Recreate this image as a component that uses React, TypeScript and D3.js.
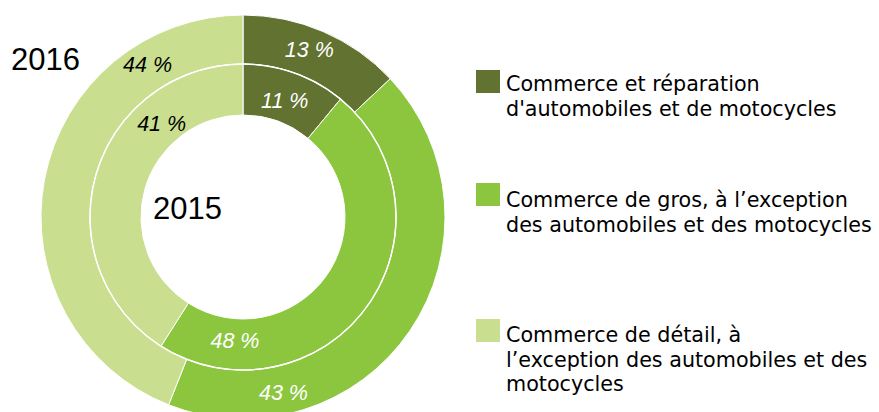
import React from "react";
import * as d3 from "d3";

const categories = [
  "Commerce et réparation d'automobiles et de motocycles",
  "Commerce de gros, à l’exception des automobiles et des motocycles",
  "Commerce de détail, à l’exception des automobiles et des motocycles",
];
const legendLines = [
  ["Commerce et réparation", "d'automobiles et de motocycles"],
  ["Commerce de gros, à l’exception", "des automobiles et des motocycles"],
  ["Commerce de détail, à", "l’exception des automobiles et des", "motocycles"],
];
const values2016 = [13, 43, 44];
const values2015 = [11, 48, 41];
const colors = ["#617231", "#8cc63f", "#c9df8f"];
const labelColors = ["#ffffff", "#ffffff", "#000000"];

// label placement (angle in degrees from top, clockwise), layout only
const labelAngles2016 = [21.6, 167, -32];
const labelAngles2015 = [19.7, 183.7, -41];

const W = 879;
const H = 412;
const cx = 243;
const cy = 217;
const rOuter = 202;
const rMid = 153;
const rHole = 102;

export default function App() {
  const pie = d3.pie<number>().sort(null).value((d) => d);
  const outerArcs = pie(values2016);
  const innerArcs = pie(values2015);
  const arcOuter = d3.arc<d3.PieArcDatum<number>>().innerRadius(rMid).outerRadius(rOuter);
  const arcInner = d3.arc<d3.PieArcDatum<number>>().innerRadius(rHole).outerRadius(rMid);

  const pos = (deg: number, r: number) => {
    const a = (deg * Math.PI) / 180;
    return [cx + r * Math.sin(a), cy - r * Math.cos(a)];
  };

  const labelFont = "'Liberation Sans', Arial, sans-serif";

  return (
    <div style={{ position: "fixed", left: 0, top: 0 }}>
      <svg width={W} height={H} style={{ display: "block", background: "#fff" }}>
        <g transform={`translate(${cx},${cy})`}>
          {outerArcs.map((a, i) => (
            <path key={"o" + i} d={arcOuter(a) || ""} fill={colors[i]} stroke="#fff" strokeWidth={1} />
          ))}
          {innerArcs.map((a, i) => (
            <path key={"i" + i} d={arcInner(a) || ""} fill={colors[i]} stroke="#fff" strokeWidth={1} />
          ))}
          <circle r={rMid} fill="none" stroke="#fff" strokeWidth={1.5} />
        </g>
        {values2016.map((v, i) => {
          const [x, y] = pos(labelAngles2016[i], 180);
          return (
            <text key={"lo" + i} x={x} y={y} dy="0.35em" textAnchor="middle" fontFamily={labelFont} fontStyle="italic" fontSize={21.5} fill={labelColors[i]}>
              {`${v} %`}
            </text>
          );
        })}
        {values2015.map((v, i) => {
          const [x, y] = pos(labelAngles2015[i], 124);
          return (
            <text key={"li" + i} x={x} y={y} dy="0.35em" textAnchor="middle" fontFamily={labelFont} fontStyle="italic" fontSize={21.5} fill={labelColors[i]}>
              {`${v} %`}
            </text>
          );
        })}
        <text x={11} y={70} fontFamily={labelFont} fontSize={31} fill="#000">2016</text>
        <text x={153} y={219} fontFamily={labelFont} fontSize={31} fill="#000">2015</text>
        {categories.map((c, i) => {
          const tops = [70, 183, 319];
          const bases = [91, 207, 342];
          return (
            <g key={"lg" + i}>
              <title>{c}</title>
              <rect x={476} y={tops[i]} width={24} height={23} fill={colors[i]} />
              {legendLines[i].map((ln, j) => (
                <text key={j} x={506} y={bases[i] + j * 24.5} fontFamily="'DejaVu Sans', sans-serif" fontSize={20.7} fill="#000">
                  {ln}
                </text>
              ))}
            </g>
          );
        })}
      </svg>
    </div>
  );
}
